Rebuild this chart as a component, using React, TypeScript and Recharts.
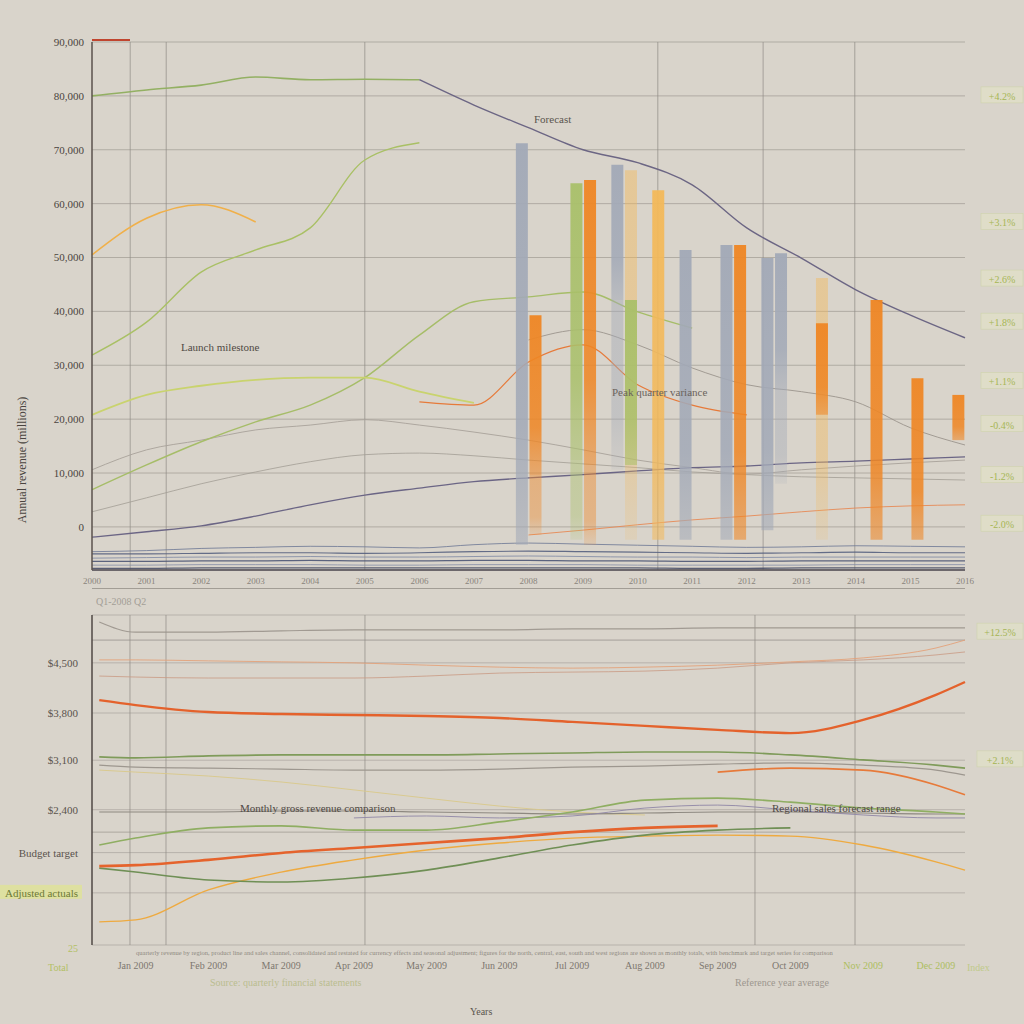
import React from 'react'
import { ComposedChart, BarChart, Line, Bar, Cell, XAxis, YAxis, CartesianGrid, ReferenceLine } from 'recharts'

const BG = '#d9d4cb'
const SERIF = '"Liberation Serif", "DejaVu Serif", serif'

// ---------- top panel: lines (17 sample points) ----------
const topYears = ['2000', '2001', '2002', '2003', '2004', '2005', '2006', '2007', '2008', '2009', '2010', '2011', '2012', '2013', '2014', '2015', '2016']
const topYTicks = [0, 10, 20, 30, 40, 50, 60, 70, 80, 90]
const topRightTicks = [80, 56.5, 46, 38, 27, 19, 9.5, 0.5]
const topRightLabels = ['+4.2%', '+3.1%', '+2.6%', '+1.8%', '+1.1%', '-0.4%', '-1.2%', '-2.0%']
const topGridX = [0.7, 1.36, 5, 10.37, 12.3, 13.98]

const retailEarly = [80.0, 81.1, 82.0, 83.5, 83.0, 83.1, 83.0, null, null, null, null, null, null, null, null, null, null]
const retailLate = [null, null, null, null, null, null, 83.0, 78.3, 74.1, 70.0, 67.6, 63.5, 55.5, 49.9, 44.0, 39.3, 35.1]
const wholesale = [50.5, 57.3, 59.8, 56.6, null, null, null, null, null, null, null, null, null, null, null, null, null]
const online = [31.9, 38.0, 47.3, 51.4, 55.5, 68.1, 71.3, null, null, null, null, null, null, null, null, null, null]
const exportsA = [20.8, 24.5, 26.2, 27.3, 27.7, 27.7, 25.1, 23.0, null, null, null, null, null, null, null, null, null]
const exportsB = [6.9, 11.5, 15.8, 19.5, 22.6, 27.7, 35.6, 41.8, 42.7, 43.6, 39.9, 36.9, null, null, null, null, null]
const servicesA = [null, null, null, null, null, null, 23.2, 22.6, 30.6, 33.8, 26.4, 22.6, 20.8, null, null, null, null]
const servicesB = [null, null, null, null, null, null, null, null, -1.5, -0.6, 0.4, 1.3, 2.0, 2.8, 3.5, 3.9, 4.1]
const licensing = [-1.9, -0.9, 0.2, 2.0, 4.1, 5.9, 7.2, 8.4, 9.1, 9.7, 10.4, 11.0, 11.3, 11.9, 12.2, 12.6, 13.0]
const otherA = [10.6, 14.3, 16.1, 18.0, 18.9, 19.9, 18.9, 17.6, 16.1, 14.3, 12.4, 11.0, 9.8, 10.6, 11.3, 11.9, 12.4]
const otherB = [2.8, 5.4, 8.0, 10.2, 12.1, 13.4, 13.7, 13.2, 12.4, 11.7, 11.0, 10.2, 9.7, 9.3, 9.1, 8.9, 8.7]
const otherC = [null, null, null, null, null, null, null, null, 34.7, 36.6, 33.8, 29.5, 26.4, 25.1, 23.2, 18.4, 15.2]
const base1 = [-4.6, -4.4, -4.0, -3.8, -3.6, -3.7, -3.9, -3.3, -3.0, -3.2, -3.4, -3.6, -3.8, -3.7, -3.5, -3.6, -3.7]
const base2 = [-5.0, -5.0, -4.9, -4.8, -4.8, -4.9, -4.8, -4.6, -4.5, -4.6, -4.7, -4.8, -4.9, -4.8, -4.7, -4.8, -4.8]
const base3 = [-5.8, -5.7, -5.6, -5.6, -5.5, -5.6, -5.6, -5.5, -5.4, -5.5, -5.6, -5.6, -5.7, -5.6, -5.6, -5.6, -5.6]
const base4 = [-6.4, -6.4, -6.3, -6.3, -6.2, -6.3, -6.3, -6.2, -6.2, -6.3, -6.3, -6.4, -6.4, -6.3, -6.3, -6.3, -6.3]
const base5 = [-7.1, -7.1, -7.0, -7.0, -7.0, -7.1, -7.1, -7.0, -7.0, -7.0, -7.1, -7.1, -7.1, -7.1, -7.0, -7.0, -7.0]
const base6 = [-7.7, -7.7, -7.6, -7.6, -7.6, -7.6, -7.6, -7.6, -7.6, -7.6, -7.6, -7.7, -7.7, -7.6, -7.6, -7.6, -7.6]

const topLines = [
  { key: 'base1', data: base1, color: '#6a7594', w: 1, o: 0.8 },
  { key: 'base2', data: base2, color: '#55607f', w: 1.2, o: 0.9 },
  { key: 'base3', data: base3, color: '#7b86a3', w: 1, o: 0.8 },
  { key: 'base4', data: base4, color: '#4d5775', w: 1.2, o: 0.9 },
  { key: 'base5', data: base5, color: '#838ca6', w: 1, o: 0.8 },
  { key: 'base6', data: base6, color: '#4a5068', w: 1.4, o: 0.9 },
  { key: 'otherB', data: otherB, color: '#a39d95', w: 1, o: 0.8 },
  { key: 'otherA', data: otherA, color: '#a8a29a', w: 1, o: 0.9 },
  { key: 'otherC', data: otherC, color: '#9b958d', w: 1, o: 0.9 },
  { key: 'licensing', data: licensing, color: '#6b6585', w: 1.3, o: 1 },
  { key: 'servicesB', data: servicesB, color: '#e78a55', w: 1, o: 0.9 },
  { key: 'servicesA', data: servicesA, color: '#e67a3a', w: 1.2, o: 1 },
  { key: 'exportsB', data: exportsB, color: '#a6bd68', w: 1.4, o: 1 },
  { key: 'exportsA', data: exportsA, color: '#c9d36e', w: 1.8, o: 1 },
  { key: 'online', data: online, color: '#a9c065', w: 1.4, o: 1 },
  { key: 'wholesale', data: wholesale, color: '#f0b04a', w: 1.6, o: 1 },
  { key: 'retailEarly', data: retailEarly, color: '#93b063', w: 1.6, o: 1 },
  { key: 'retailLate', data: retailLate, color: '#6c6684', w: 1.4, o: 1 },
]

const topRows = topYears.map((label, i) => {
  const row: any = { x: i, label }
  topLines.forEach((s) => { row[s.key] = s.data[i] })
  return row
})

// ---------- top panel: bars (64 slots) ----------
const SLOTS = 64
const barSlot = [31, 32, 35, 36, 38, 39, 41, 43, 46, 47, 49, 50, 53, 57, 60, 63]
const barProduct = ['Hardware', 'Services', 'Software', 'Services', 'Hardware', 'Software', 'Licensing', 'Hardware', 'Hardware', 'Services', 'Hardware', 'Hardware', 'Services', 'Services', 'Services', 'Services']
const barHigh = [71.2, 39.3, 63.8, 64.4, 67.2, 42.1, 62.5, 51.4, 52.3, 52.3, 49.9, 50.8, 37.8, 42.1, 27.6, 24.5]
const barLow = [-3.3, 9.6, 12.4, 11.5, 42.1, 11.5, -2.4, -2.4, -2.4, -2.4, -0.6, 25.4, 20.8, -2.4, -2.4, 16.1]

const ghostSlot = [32, 35, 36, 38, 39, 53, 50]
const ghostProduct = ['Services', 'Software', 'Services', 'Hardware', 'Licensing', 'Licensing', 'Hardware']
const ghostHigh = [9.6, 12.4, 11.5, 42.1, 66.2, 46.2, 25.4]
const ghostLow = [-1.5, -2.4, -3.3, 10.6, -2.4, -2.4, 8.0]

const productColor: Record<string, string> = {
  Hardware: '#a2a9b7',
  Services: '#ef8624',
  Software: '#a9c06a',
  Licensing: '#f3b95a',
}

const buildSlots = (slots: number[], prod: string[], hi: number[], lo: number[]) =>
  Array.from({ length: SLOTS }, (_, i) => {
    const k = slots.indexOf(i)
    return { slot: i, product: k >= 0 ? prod[k] : 'Hardware', range: k >= 0 ? [lo[k], hi[k]] : null }
  })

const barRows = buildSlots(barSlot, barProduct, barHigh, barLow)
const ghostRows = buildSlots(ghostSlot, ghostProduct, ghostHigh, ghostLow)

// ---------- bottom panel ----------
const bottomX = [0.5, 1, 2, 3, 4, 5, 6, 7, 8, 9, 10, 11, 12, 12.4]
const bottomMonths = ['Jan 2009', 'Feb 2009', 'Mar 2009', 'Apr 2009', 'May 2009', 'Jun 2009', 'Jul 2009', 'Aug 2009', 'Sep 2009', 'Oct 2009', 'Nov 2009', 'Dec 2009']
const bottomYTicks = [85.5, 70.3, 56, 41, 28, 15.8]
const bottomYLabels = ['$4,500', '$3,800', '$3,100', '$2,400', 'Budget  target', 'Adjusted  actuals']
const bottomRightTicks = [94.8, 56.1]
const bottomRightLabels = ['+12.5%', '+2.1%']
const bottomGridX = [0.922, 1.417, 4.152, 9.513, 10.888]

const benchmark = [97.9, 94.8, 94.8, 95.2, 95.5, 95.5, 95.5, 95.8, 95.8, 96.1, 96.1, 96.1, 96.1, 96.1]
const northA = [86.4, 86.4, 86.1, 85.8, 85.5, 84.8, 84.2, 83.9, 84.2, 84.8, 85.8, 87.0, 90.0, 92.4]
const northB = [81.5, 81.2, 80.9, 80.9, 80.9, 81.5, 82.4, 82.7, 83.0, 83.9, 85.5, 86.4, 87.9, 88.8]
const north = [74.2, 72.7, 70.6, 70.0, 69.7, 69.4, 68.8, 67.6, 66.4, 65.2, 64.2, 68.2, 75.8, 79.7]
const central = [57.0, 56.7, 57.3, 57.6, 57.6, 57.6, 57.9, 58.2, 58.5, 58.5, 57.6, 56.1, 54.5, 53.6]
const centralB = [54.5, 53.9, 53.6, 53.3, 53.0, 53.0, 53.3, 53.9, 54.2, 54.8, 55.2, 54.5, 53.0, 51.5]
const eastLate = [null, null, null, null, null, null, null, null, null, 52.4, 53.6, 53.0, 48.5, 45.5]
const eastEarly = [53.0, 52.4, 51.2, 49.4, 47.0, 44.5, 42.1, 40.3, 39.4, null, null, null, null, null]
const target = [40.3, 40.3, 40.3, 40.6, 40.6, 40.3, 40.0, 39.7, 40.0, 40.3, 40.3, 40.0, 39.7, 39.7]
const south = [30.3, 32.4, 35.5, 36.1, 34.8, 34.8, 37.3, 40.3, 43.9, 44.5, 43.3, 41.5, 40.3, 39.7]
const west = [23.9, 24.2, 25.8, 27.9, 29.4, 30.9, 32.4, 34.2, 35.5, 36.1, null, null, null, null]
const westB = [23.3, 22.1, 19.7, 19.1, 20.3, 22.7, 26.4, 30.3, 33.3, 34.8, 35.5, null, null, null]
const islands = [7.0, 7.6, 16.7, 22.1, 25.8, 28.8, 30.9, 32.4, 33.0, 33.3, 33.0, 30.3, 25.2, 22.7]
const forecast = [null, null, null, null, 38.5, 39.1, 38.5, 39.1, 41.5, 42.4, 40.9, 39.4, 38.5, 38.5]

const bottomLines = [
  { key: 'benchmark', data: benchmark, color: '#9a948c', w: 1.2, o: 0.9 },
  { key: 'northA', data: northA, color: '#e3a27a', w: 1, o: 0.9 },
  { key: 'northB', data: northB, color: '#c99a83', w: 1, o: 0.8 },
  { key: 'north', data: north, color: '#e4622c', w: 2.4, o: 1 },
  { key: 'centralB', data: centralB, color: '#9d978f', w: 1.2, o: 1 },
  { key: 'central', data: central, color: '#7f9b5a', w: 1.6, o: 1 },
  { key: 'eastEarly', data: eastEarly, color: '#d9c98a', w: 1, o: 0.9 },
  { key: 'eastLate', data: eastLate, color: '#e77a3a', w: 1.6, o: 1 },
  { key: 'target', data: target, color: '#8d8880', w: 1.2, o: 1 },
  { key: 'forecast', data: forecast, color: '#8f86a6', w: 1, o: 0.9 },
  { key: 'islands', data: islands, color: '#eeaa40', w: 1.4, o: 1 },
  { key: 'westB', data: westB, color: '#6f8f55', w: 1.6, o: 1 },
  { key: 'south', data: south, color: '#8fae62', w: 1.6, o: 1 },
  { key: 'west', data: west, color: '#e5632c', w: 2.6, o: 1 },
]

const bottomRows = bottomX.map((x, i) => {
  const row: any = { x }
  bottomLines.forEach((s) => { row[s.key] = s.data[i] })
  return row
})

// ---------- tick renderers ----------
const TopRightTag = ({ x, y, payload }: any) => {
  const k = topRightTicks.indexOf(payload.value)
  return (
    <g>
      <rect x={x + 8} y={y - 9} width={42} height={16} fill="#e4e6c6" opacity={0.55} stroke="#c8d393" strokeWidth={0.6} />
      <text x={x + 29} y={y + 4} textAnchor="middle" fontSize={10} fontFamily={SERIF} fill="#a6b654">{topRightLabels[k]}</text>
    </g>
  )
}

const BottomRightTag = ({ x, y, payload }: any) => {
  const k = bottomRightTicks.indexOf(payload.value)
  return (
    <g>
      <rect x={x + 4} y={y - 9} width={46} height={16} fill="#e4e6c6" opacity={0.5} stroke="#c8d393" strokeWidth={0.6} />
      <text x={x + 27} y={y + 4} textAnchor="middle" fontSize={10} fontFamily={SERIF} fill="#a4b453">{bottomRightLabels[k]}</text>
    </g>
  )
}

const BottomLeftTick = ({ x, y, payload }: any) => {
  const k = bottomYTicks.indexOf(payload.value)
  const last = k === bottomYTicks.length - 1
  return (
    <g>
      {last && <rect x={x - 90} y={y - 8} width={88} height={14} fill="#dfe58f" opacity={0.7} />}
      <text x={x - 6} y={y + 4} textAnchor="end" fontSize={11} fontFamily={SERIF} fill={last ? '#6d7a35' : '#5a534d'}>{bottomYLabels[k]}</text>
    </g>
  )
}

const BottomXTick = ({ x, y, payload }: any) => {
  const k = payload.value - 1
  const green = k >= 10
  return (
    <text x={x} y={y + 16} textAnchor="middle" fontSize={10} fontFamily={SERIF} fill={green ? '#adbe5f' : '#7d776f'}>{bottomMonths[k]}</text>
  )
}

const txt = (left: number, top: number, s: string, size = 11, color = '#4f4944', extra: any = {}) => (
  <div style={{ position: 'absolute', left, top, fontSize: size, color, fontFamily: SERIF, whiteSpace: 'nowrap', lineHeight: 1, ...extra }}>{s}</div>
)

const gradient = (id: string, color: string, a: number, b: number) => (
  <linearGradient id={id} x1="0" y1="0" x2="0" y2="1">
    <stop offset="0%" stopColor={color} stopOpacity={a} />
    <stop offset="70%" stopColor={color} stopOpacity={a * 0.9} />
    <stop offset="100%" stopColor={color} stopOpacity={b} />
  </linearGradient>
)

const footnote = 'quarterly revenue by region, product line and sales channel, consolidated and restated for currency effects and seasonal adjustment; figures for the north, central, east, south and west regions are shown as monthly totals, with benchmark and target series for comparison'

export default function App() {
  const topMargin = { top: 42, right: 0, bottom: 12, left: 0 }
  const barMargin = { top: 42, right: 59, bottom: 30, left: 92 }

  return (
    <div style={{ position: 'absolute', left: 0, top: 0, width: 1024, height: 1024, background: BG, overflow: 'hidden' }}>
      {/* top panel: lines + grid + axes */}
      <div style={{ position: 'absolute', left: 0, top: 0 }}>
        <ComposedChart width={1024} height={600} data={topRows} margin={topMargin}>
          <CartesianGrid vertical={false} stroke="#8f8a84" strokeOpacity={0.55} yAxisId="left" />
          <XAxis dataKey="x" type="number" domain={[0, 16]} ticks={topYears.map((_, i) => i)} tickFormatter={(v) => topYears[v]}
            height={18} tick={{ fontSize: 9, fill: '#8a847c', fontFamily: SERIF }} tickLine={false} axisLine={{ stroke: '#4f4a52', strokeWidth: 1.5 }} />
          <YAxis yAxisId="left" domain={[-8, 90]} ticks={topYTicks} width={92} allowDataOverflow
            tickFormatter={(v) => (v * 1000).toLocaleString('en-US')}
            tick={{ fontSize: 11, fill: '#4a4440', fontFamily: SERIF }} tickLine={false} axisLine={{ stroke: '#5a524c', strokeWidth: 1.5 }} />
          <YAxis yAxisId="right" orientation="right" domain={[-8, 90]} ticks={topRightTicks} width={59} allowDataOverflow
            tick={<TopRightTag />} tickLine={false} axisLine={false} />
          {topGridX.map((gx) => (
            <ReferenceLine key={gx} x={gx} yAxisId="left" stroke="#8f8a84" strokeOpacity={0.7} />
          ))}
          {topLines.map((s) => (
            <Line key={s.key} yAxisId="left" dataKey={s.key} type="monotone" stroke={s.color} strokeWidth={s.w} strokeOpacity={s.o}
              dot={false} connectNulls={false} isAnimationActive={false} />
          ))}
        </ComposedChart>
      </div>

      {/* top panel: faded bar continuations */}
      <div style={{ position: 'absolute', left: 0, top: 0 }}>
        <BarChart width={1024} height={600} data={ghostRows} margin={barMargin} barCategoryGap={0}>
          <defs>
            {Object.keys(productColor).map((p) => gradient(`ghost-${p}`, productColor[p], 0.45, 0.15))}
          </defs>
          <XAxis dataKey="slot" hide />
          <YAxis domain={[-8, 90]} hide allowDataOverflow />
          <Bar dataKey="range" barSize={12} isAnimationActive={false}>
            {ghostRows.map((r) => <Cell key={r.slot} fill={`url(#ghost-${r.product})`} />)}
          </Bar>
        </BarChart>
      </div>

      {/* top panel: bars */}
      <div style={{ position: 'absolute', left: 0, top: 0 }}>
        <BarChart width={1024} height={600} data={barRows} margin={barMargin} barCategoryGap={0}>
          <defs>
            {Object.keys(productColor).map((p) => gradient(`bar-${p}`, productColor[p], 0.95, 0.55))}
          </defs>
          <XAxis dataKey="slot" hide />
          <YAxis domain={[-8, 90]} hide allowDataOverflow />
          <Bar dataKey="range" barSize={12} isAnimationActive={false}>
            {barRows.map((r) => <Cell key={r.slot} fill={`url(#bar-${r.product})`} />)}
          </Bar>
        </BarChart>
      </div>

      {/* bottom panel */}
      <div style={{ position: 'absolute', left: 0, top: 590 }}>
        <ComposedChart width={1024} height={434} data={bottomRows} margin={{ top: 25, right: 0, bottom: 49, left: 0 }}>
          <CartesianGrid vertical={false} stroke="#8f8a84" strokeOpacity={0.45} />
          <XAxis dataKey="x" type="number" domain={[0.4, 12.4]} ticks={[1, 2, 3, 4, 5, 6, 7, 8, 9, 10, 11, 12]}
            height={30} tick={<BottomXTick />} tickLine={false} axisLine={false} />
          <YAxis domain={[0, 100]} ticks={bottomYTicks} width={92} tick={<BottomLeftTick />} tickLine={false} allowDataOverflow
            axisLine={{ stroke: '#4f4944', strokeWidth: 1.5 }} />
          <YAxis yAxisId="right" orientation="right" domain={[0, 100]} ticks={bottomRightTicks} width={59} allowDataOverflow
            tick={<BottomRightTag />} tickLine={false} axisLine={false} />
          {bottomGridX.map((gx) => (
            <ReferenceLine key={gx} x={gx} stroke="#8f8a84" strokeOpacity={0.7} />
          ))}
          <ReferenceLine y={92.4} stroke="#8f8a84" strokeOpacity={0.7} />
          <ReferenceLine y={34.2} stroke="#8f8a84" strokeOpacity={0.6} />
          {bottomLines.map((s) => (
            <Line key={s.key} dataKey={s.key} type="monotone" stroke={s.color} strokeWidth={s.w} strokeOpacity={s.o}
              dot={false} isAnimationActive={false} />
          ))}
        </ComposedChart>
      </div>

      {/* frame details */}
      <div style={{ position: 'absolute', left: 92, top: 39, width: 38, height: 2, background: '#c0452f' }} />
      <div style={{ position: 'absolute', left: 92, top: 588, width: 873, height: 1, background: '#a29d95' }} />

      {/* annotations */}
      {txt(181, 342, 'Launch milestone', 11, '#4f4944')}
      {txt(534, 114, 'Forecast', 11, '#5a544e')}
      {txt(612, 387, 'Peak quarter variance', 11, '#6a635c')}
      {txt(240, 803, 'Monthly gross revenue comparison', 11, '#4f4944')}
      {txt(772, 803, 'Regional sales forecast range', 11, '#4f4944')}
      {txt(96, 597, 'Q1-2008   Q2', 10, '#a39e96')}
      {txt(136, 950, footnote, 6.5, '#8e897f')}
      {txt(210, 978, 'Source: quarterly financial statements', 10, '#b9bd8f')}
      {txt(735, 978, 'Reference year average', 10, '#9c968e')}
      {txt(470, 1007, 'Years', 10, '#5a544e')}
      {txt(68, 944, '25', 10, '#b3c065')}
      {txt(48, 963, 'Total', 10, '#b3c065')}
      {txt(967, 963, 'Index', 10, '#c0ca8a')}
      <div style={{ position: 'absolute', left: 22, top: 460, transform: 'translate(-50%, -50%) rotate(-90deg)', fontSize: 12, color: '#4a4440', fontFamily: SERIF, whiteSpace: 'nowrap' }}>
        Annual revenue (millions)
      </div>
    </div>
  )
}
